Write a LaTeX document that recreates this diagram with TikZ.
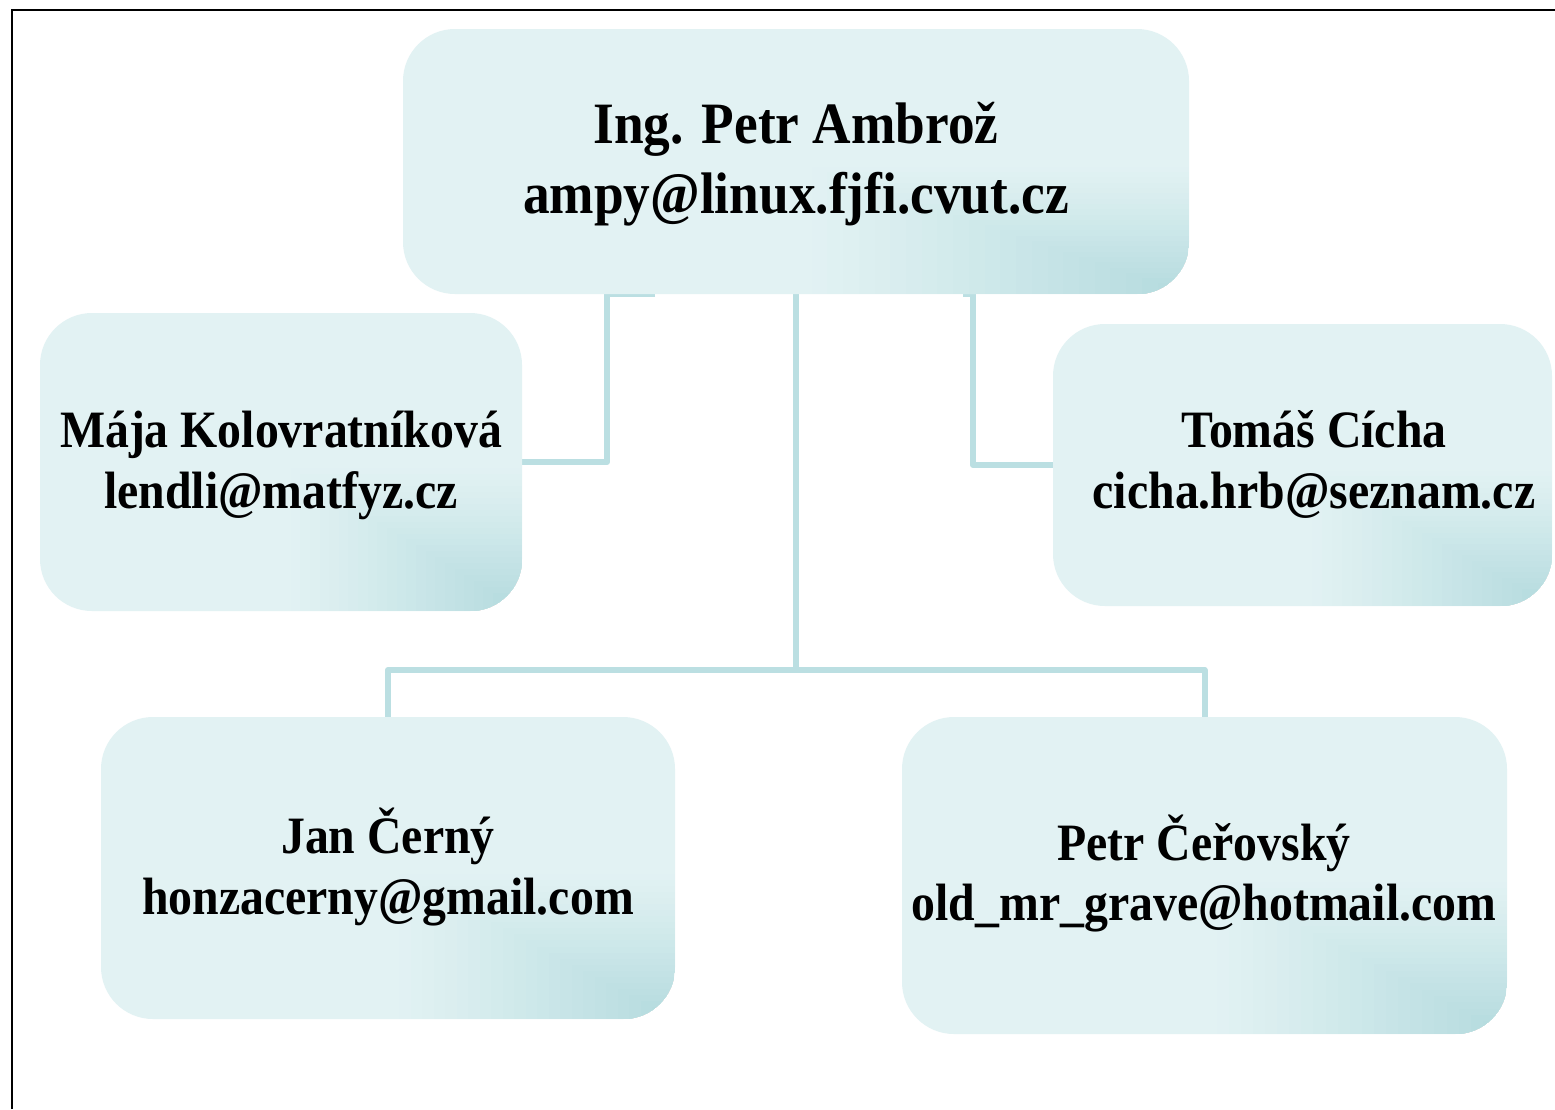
\documentclass[tikz,border=0pt]{standalone}
\usepackage{fontspec}
\setmainfont{Liberation Serif}[FakeStretch=0.91]
\usetikzlibrary{calc}
\definecolor{boxbase}{RGB}{226,242,243}
\definecolor{boxdark}{RGB}{180,219,222}
\definecolor{linkc}{RGB}{187,223,226}
\begin{document}
\begin{tikzpicture}[x=1pt,y=-1pt,
  orgbox/.style={rounded corners=52pt, fill=boxbase, draw=none, inner sep=0pt,
    path picture={
      \foreach \i [evaluate=\i as \p using (\i/24)^1.15*100] in {1,...,24} {
        \fill[sharp corners, boxdark!\p!boxbase]
          ($(path picture bounding box.center)!{\i/25}!(path picture bounding box.south east)$)
          rectangle (path picture bounding box.south east);
      }
    }},
  link/.style={draw=linkc, line width=6pt, line join=round},
  txt/.style={anchor=base, inner sep=0pt, font=\fontsize{52.5}{60}\selectfont\bfseries},
  toptxt/.style={anchor=base, inner sep=0pt, font=\fontsize{58.6}{68}\selectfont\bfseries},
  frame/.style={draw=black, line width=2.2pt}
]
\useasboundingbox (0,0) rectangle (1555,1109);
\fill[white] (0,0) rectangle (1555,1109);
\draw[frame] (12,1109) -- (12,10) -- (1555,10);

\path (796,670) coordinate (hub);

% anchor nodes for the boxes (connectors are drawn behind the boxes)
\node[minimum width=786pt, minimum height=265pt, inner sep=0pt] (top) at (796,161.5) {};
\node[minimum width=482pt, minimum height=298pt, inner sep=0pt] (maja) at (281,462) {};
\node[minimum width=499pt, minimum height=282pt, inner sep=0pt] (tomas) at (1302.5,465) {};
\node[minimum width=574pt, minimum height=302pt, inner sep=0pt] (jan) at (388,868) {};
\node[minimum width=605pt, minimum height=317pt, inner sep=0pt] (petr) at (1204.5,875.5) {};

\draw[link] ([xshift=-141pt]top.south) -- ++(-48,0) |- (maja.east);
\draw[link] ([xshift=167pt]top.south) -- ++(10,0) |- (tomas.west);
\draw[link] (top.south) -- (hub);
\draw[link] (jan.north) |- (hub) -| (petr.north);

% boxes
\node[orgbox, minimum width=786pt, minimum height=265pt] (topbox) at (top) {};
\node[orgbox, minimum width=482pt, minimum height=298pt] (majabox) at (maja) {};
\node[orgbox, minimum width=499pt, minimum height=282pt] (tomasbox) at (tomas) {};
\node[orgbox, minimum width=574pt, minimum height=302pt] (janbox) at (jan) {};
\node[orgbox, minimum width=605pt, minimum height=317pt] (petrbox) at (petr) {};

% texts
\node[toptxt] (t1a) at (796,143) {Ing. Petr Ambrož};
\node[toptxt] (t1b) at (796,213) {ampy@linux.fjfi.cvut.cz};
\node[txt] (t2a) at (281,447) {Mája Kolovratníková};
\node[txt] (t2b) at (281,508) {lendli@matfyz.cz};
\node[txt] (t3a) at (1314,447) {Tomáš Cícha};
\node[txt] (t3b) at (1314,508) {cicha.hrb@seznam.cz};
\node[txt] (t4a) at (388,853) {Jan Černý};
\node[txt] (t4b) at (388,914) {honzacerny@gmail.com};
\node[txt] (t5a) at (1204,860) {Petr Čeřovský};
\node[txt] (t5b) at (1204,920) {old\_mr\_grave@hotmail.com};
\end{tikzpicture}
\end{document}
